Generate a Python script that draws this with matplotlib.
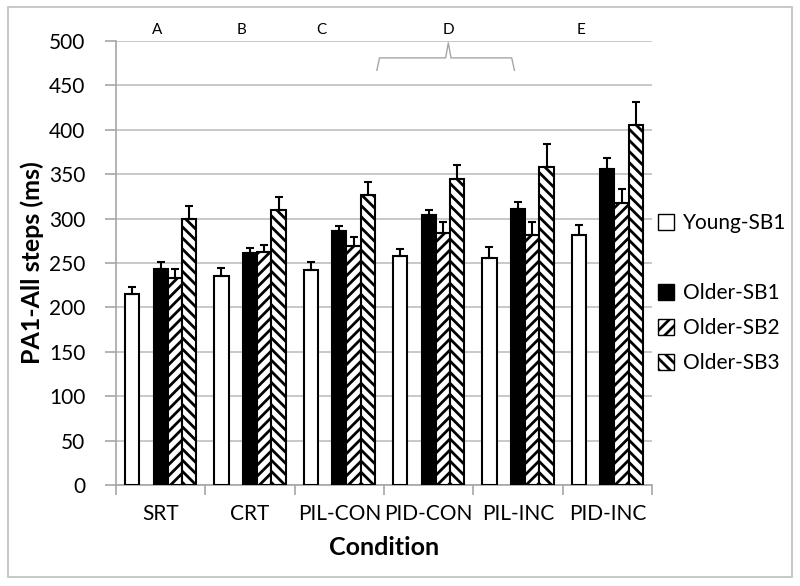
import matplotlib.pyplot as plt
from matplotlib.patches import Rectangle, Patch
import numpy as np

plt.rcParams['font.family'] = ['Lato', 'DejaVu Sans']
plt.rcParams['hatch.linewidth'] = 2.0

conditions = ['SRT', 'CRT', 'PIL-CON', 'PID-CON', 'PIL-INC', 'PID-INC']
series = ['Young-SB1', 'Older-SB1', 'Older-SB2', 'Older-SB3']
young_sb1 = [215, 235, 242, 258, 256, 281]
older_sb1 = [243, 261, 286, 304, 311, 356]
older_sb2 = [233, 262, 269, 284, 282, 318]
older_sb3 = [300, 310, 327, 345, 358, 405]
young_sb1_err = [8, 9, 9, 8, 12, 12]
older_sb1_err = [8, 6, 6, 6, 8, 12]
older_sb2_err = [10, 8, 10, 12, 14, 15]
older_sb3_err = [14, 14, 14, 15, 26, 26]
letters = ['A', 'B', 'C', 'D', 'E']
letter_x = [-0.04, 0.9, 1.8, 3.22, 4.7]

fig = plt.figure(figsize=(8, 5.86), dpi=100)
ax = fig.add_axes([0.145, 0.1724, 0.67, 0.7576])

# outer chart frame
fig.patches.append(Rectangle((0.01, 0.015), 0.98, 0.973, transform=fig.transFigure,
                             fill=False, edgecolor='#bfbfbf', linewidth=1.2))

x = np.arange(len(conditions))
w = 0.16
vals = [young_sb1, older_sb1, older_sb2, older_sb3]
errs = [young_sb1_err, older_sb1_err, older_sb2_err, older_sb3_err]
slots = [-2, 0, 1, 2]
faces = ['white', 'black', 'white', 'white']
hatches = [None, None, '///', '\\\\\\']
for v, e, s, fc, h, lab in zip(vals, errs, slots, faces, hatches, series):
    ax.bar(x + s * w, v, w, color=fc, edgecolor='black', linewidth=1.5, hatch=h,
           label=lab, zorder=3)
    ax.errorbar(x + s * w, v, yerr=[np.zeros(len(v)), e], fmt='none', ecolor='black',
                elinewidth=1.5, capsize=3, capthick=1.5, zorder=4)

ax.set_xlim(-0.5, 5.5)
ax.set_ylim(0, 500)
ax.set_yticks(np.arange(0, 501, 50))
ax.yaxis.grid(True, color='#bfbfbf', linewidth=1.2, zorder=0)
ax.set_axisbelow(True)
for sp in ['top', 'right']:
    ax.spines[sp].set_visible(False)
for sp in ['left', 'bottom']:
    ax.spines[sp].set_color('#a6a6a6')
    ax.spines[sp].set_linewidth(1.2)

ax.set_xticks(np.arange(-0.5, 6, 1))
ax.set_xticklabels([])
ax.set_xticks(x, minor=True)
ax.set_xticklabels(conditions, minor=True, fontsize=15)
ax.tick_params(axis='x', which='major', length=7, color='#a6a6a6', width=1.2)
ax.tick_params(axis='x', which='minor', length=0, pad=14)
ax.tick_params(axis='y', length=8, color='#a6a6a6', width=1.2, labelsize=15, pad=14)

ax.set_ylabel('PA1-All steps (ms)', fontsize=18, fontweight='bold', labelpad=4)
ax.set_xlabel('Condition', fontsize=18, fontweight='bold', labelpad=8)

for lt, lx in zip(letters, letter_x):
    ax.text(lx, 512, lt, ha='center', va='center', fontsize=11, clip_on=False)

# brace over PID-CON / PIL-INC
bx0, bx1, bm = 2.42, 3.96, 3.22
ax.plot([bx0, bx0 + 0.03, bm - 0.03, bm, bm + 0.03, bx1 - 0.03, bx1],
        [467, 481, 481, 498, 481, 481, 467], color='#a6a6a6', linewidth=1,
        clip_on=False, zorder=2)

handles = [Patch(facecolor='white', edgecolor='black'),
           Patch(facecolor='none', edgecolor='none'),
           Patch(facecolor='black', edgecolor='black'),
           Patch(facecolor='white', edgecolor='black', hatch='///'),
           Patch(facecolor='white', edgecolor='black', hatch='\\\\\\')]
labels = ['Young-SB1', '', 'Older-SB1', 'Older-SB2', 'Older-SB3']
fig.legend(handles, labels, loc='center left', bbox_to_anchor=(0.822, 0.50),
           frameon=False, fontsize=15, handlelength=0.8, handleheight=0.8,
           handletextpad=0.4, labelspacing=0.72, borderpad=0, borderaxespad=0)

fig.savefig('out.png', dpi=100)
